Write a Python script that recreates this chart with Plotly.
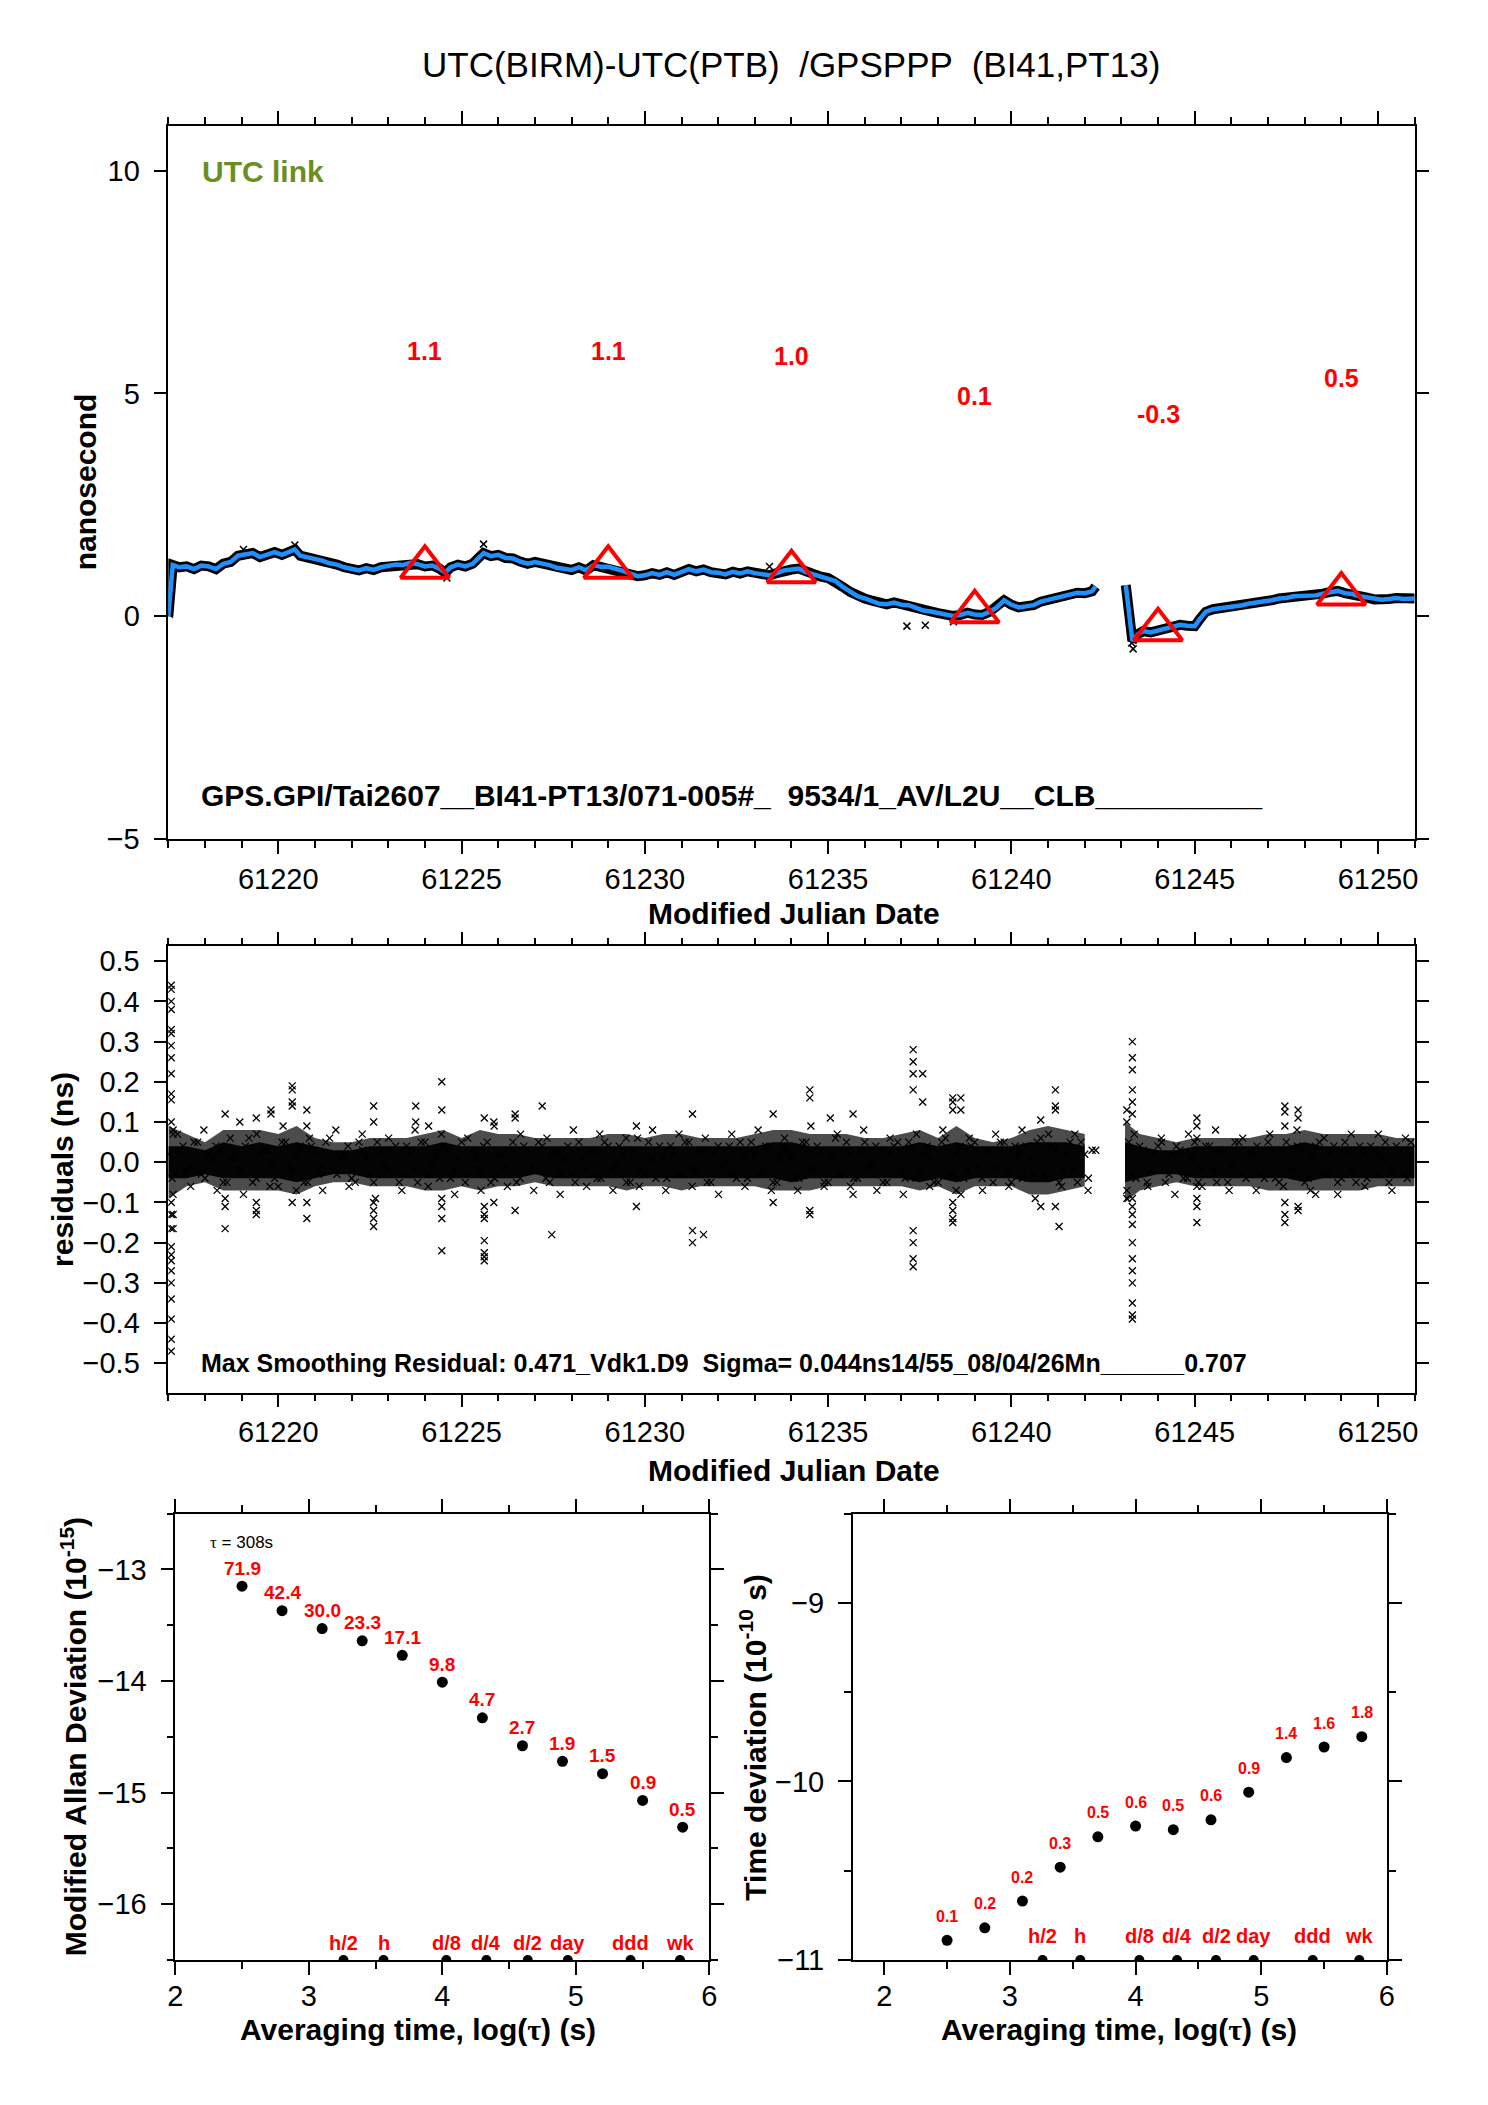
import numpy as np
import plotly.graph_objects as go

W, H = 1488, 2105          # reference picture size
OFF = 8                     # default page margin around the figure
FIG_W, FIG_H = W - 2 * OFF, H - 2 * OFF
FONT = "Liberation Sans"

# ---------------- top panel: UTC(BIRM)-UTC(PTB) ----------------
smooth_t_a = [61217.00, 61217.05, 61217.12, 61217.3, 61217.5, 61217.7, 61217.9, 61218.1, 61218.3, 61218.5,
              61218.7, 61218.9, 61219.1, 61219.3, 61219.5, 61219.7, 61219.9, 61220.1, 61220.3, 61220.45,
              61220.6, 61220.8, 61221.0, 61221.2, 61221.4, 61221.6, 61221.8, 61222.0, 61222.2, 61222.4,
              61222.6, 61222.8, 61223.0, 61223.2, 61223.4, 61223.6, 61223.8, 61224.0, 61224.2, 61224.4,
              61224.55, 61224.7, 61224.9, 61225.1, 61225.3, 61225.45, 61225.6, 61225.8, 61226.0, 61226.2,
              61226.4, 61226.6, 61226.8, 61227.0, 61227.2, 61227.4, 61227.6, 61227.8, 61228.0, 61228.2,
              61228.4, 61228.6, 61228.8, 61229.0, 61229.2, 61229.4, 61229.6, 61229.8, 61230.0, 61230.2,
              61230.4, 61230.6, 61230.8, 61231.0, 61231.2, 61231.4, 61231.6, 61231.8, 61232.0, 61232.2,
              61232.4, 61232.6, 61232.8, 61233.0, 61233.2, 61233.4, 61233.6, 61233.8, 61234.0, 61234.2,
              61234.4, 61234.6, 61234.8, 61235.0, 61235.2, 61235.4, 61235.6, 61235.8, 61236.0, 61236.2,
              61236.4, 61236.6, 61236.8, 61237.0, 61237.2, 61237.4, 61237.6, 61237.8, 61238.0, 61238.2,
              61238.4, 61238.6, 61238.8, 61239.0, 61239.2, 61239.4, 61239.6, 61239.8, 61240.0, 61240.2,
              61240.4, 61240.6, 61240.8, 61241.0, 61241.2, 61241.4, 61241.6, 61241.8, 61242.0, 61242.2,
              61242.3]
smooth_v_a = [0.00, 0.60, 1.15, 1.10, 1.12, 1.06, 1.14, 1.12, 1.06, 1.18,
              1.22, 1.36, 1.40, 1.42, 1.33, 1.38, 1.44, 1.38, 1.46, 1.50,
              1.36, 1.33, 1.28, 1.25, 1.19, 1.16, 1.10, 1.07, 1.03, 1.08,
              1.04, 1.10, 1.12, 1.16, 1.15, 1.20, 1.17, 1.12, 1.14, 1.07,
              0.98, 1.10, 1.16, 1.12, 1.18, 1.30, 1.42, 1.35, 1.38, 1.31,
              1.30, 1.23, 1.18, 1.22, 1.19, 1.15, 1.09, 1.07, 1.04, 1.10,
              1.03, 1.15, 1.11, 1.11, 1.07, 1.02, 0.96, 0.90, 0.92, 0.97,
              0.93, 0.99, 0.93, 1.00, 1.06, 1.01, 1.05, 0.99, 0.98, 0.94,
              1.00, 0.96, 1.01, 0.97, 0.95, 0.92, 0.97, 1.03, 1.05, 1.07,
              0.99, 0.94, 0.89, 0.86, 0.79, 0.66, 0.55, 0.45, 0.40, 0.35,
              0.28, 0.27, 0.31, 0.26, 0.25, 0.19, 0.13, 0.11, 0.07, 0.03,
              0.01, 0.03, 0.08, 0.04, 0.03, 0.10, 0.20, 0.36, 0.26, 0.20,
              0.23, 0.25, 0.33, 0.37, 0.41, 0.45, 0.50, 0.53, 0.52, 0.56,
              0.67]
smooth_t_b = [61243.12, 61243.2, 61243.3, 61243.45, 61243.6, 61243.8, 61244.0, 61244.2, 61244.4, 61244.6,
              61244.8, 61245.0, 61245.15, 61245.3, 61245.5, 61245.7, 61245.9, 61246.1, 61246.3, 61246.5,
              61246.7, 61246.9, 61247.1, 61247.3, 61247.5, 61247.7, 61247.9, 61248.1, 61248.3, 61248.5,
              61248.7, 61248.9, 61249.1, 61249.3, 61249.5, 61249.7, 61249.9, 61250.1, 61250.3, 61250.5,
              61250.7, 61250.9, 61251.0]
smooth_v_b = [0.70, 0.10, -0.55, -0.40, -0.33, -0.36, -0.32, -0.26, -0.23, -0.19,
              -0.21, -0.22, -0.05, 0.10, 0.16, 0.18, 0.20, 0.22, 0.25, 0.29,
              0.31, 0.35, 0.36, 0.40, 0.41, 0.45, 0.46, 0.48, 0.47, 0.51,
              0.55, 0.57, 0.52, 0.50, 0.45, 0.42, 0.38, 0.37, 0.39, 0.41,
              0.39, 0.41, 0.40]
top_spike_t = [61217.03, 61219.05, 61220.45, 61224.6, 61225.6, 61233.4, 61237.15, 61237.65, 61238.42, 61243.28, 61243.32]
top_spike_v = [0.05, 1.50, 1.60, 0.86, 1.62, 1.12, -0.22, -0.20, -0.12, -0.60, -0.73]
tri_t = [61224, 61229, 61234, 61239, 61244, 61249]
tri_v = [1.1, 1.1, 1.0, 0.1, -0.3, 0.5]

# ---------------- middle panel: residuals ----------------
res_a1 = [0.02, -0.03, 0.04, -0.01, 0.05, -0.04, 0.01, 0.03, -0.05, 0.02,
          -0.02, 0.06, -0.04, 0.03, 0.00, -0.06, 0.05, -0.02, 0.04, -0.05,
          0.03, -0.01, 0.06, -0.03, 0.02, -0.04, 0.05, 0.01, -0.05, 0.03,
          -0.02, 0.04, -0.03, 0.02, -0.05, 0.05, 0.00, -0.04, 0.03, -0.02,
          0.05, -0.03, 0.01, 0.04, -0.05, 0.02, -0.01, 0.05, -0.04, 0.03,
          -0.02, 0.04, -0.05, 0.02, 0.01, -0.03, 0.05, -0.02, 0.03, -0.04,
          0.04, -0.01, 0.02, -0.05, 0.06, -0.03, 0.01, 0.04, -0.04, 0.02,
          -0.03, 0.05, -0.02, 0.03, -0.05, 0.04, 0.00, -0.03, 0.05, -0.04,
          0.02, -0.02, 0.04, -0.05, 0.03, 0.01, -0.04, 0.05, -0.02, 0.03,
          -0.05, 0.06, -0.03, 0.02, -0.04, 0.05, -0.01, 0.03, -0.05, 0.04,
          -0.02, 0.05, -0.04, 0.02, 0.01, -0.05, 0.06, -0.03, 0.04, -0.02,
          0.05, -0.04, 0.03, -0.01, 0.05, -0.05, 0.02, 0.04, -0.03, 0.06,
          -0.04, 0.03, -0.02, 0.05, -0.05, 0.02, 0.03]
res_a2 = [-0.04, 0.03, -0.02, 0.05, -0.03, 0.02, 0.04, -0.05, 0.01, -0.02,
          0.04, -0.05, 0.02, 0.03, -0.04, 0.05, -0.01, 0.02, -0.05, 0.04,
          -0.03, 0.05, -0.02, 0.01, 0.04, -0.05, 0.03, -0.03, 0.05, -0.01,
          0.03, -0.05, 0.04, -0.02, 0.05, -0.03, 0.02, 0.04, -0.04, 0.01,
          -0.05, 0.03, -0.02, 0.05, -0.04, 0.02, 0.03, -0.05, 0.04, -0.01,
          0.05, -0.04, 0.02, -0.03, 0.04, -0.05, 0.01, 0.03, -0.04, 0.05,
          -0.02, 0.04, -0.05, 0.03, -0.02, 0.05, -0.04, 0.01, 0.04, -0.03,
          0.05, -0.02, 0.03, -0.05, 0.02, -0.01, 0.04, -0.04, 0.02, 0.05,
          -0.03, 0.04, -0.05, 0.01, 0.03, -0.04, 0.05, -0.02, 0.04, -0.05,
          0.02, -0.03, 0.05, -0.04, 0.03, -0.01, 0.04, -0.05, 0.02, 0.05,
          -0.04, 0.03, -0.02, 0.04, -0.05, 0.05, -0.03, 0.02, -0.04, 0.04,
          -0.01, 0.03, -0.05, 0.05, -0.02, 0.04, -0.04, 0.01, 0.05, -0.03,
          0.04, -0.05, 0.02, -0.02, 0.05, -0.04, 0.03]
res_a3 = [0.07, -0.06, 0.08, -0.07, 0.06, -0.08, 0.07, -0.06, 0.09, -0.07,
          0.06, -0.07, 0.08, -0.06, 0.07, -0.09, 0.06, -0.07, 0.08, -0.06,
          0.07, -0.08, 0.06, -0.07, 0.09, -0.06, 0.07, -0.07, 0.06, -0.08,
          0.08, -0.06, 0.07, -0.07, 0.06, -0.06, 0.08, -0.07, 0.07, -0.06,
          0.06, -0.08, 0.07, -0.06, 0.08, -0.07, 0.06, -0.07, 0.09, -0.06,
          0.07, -0.06, 0.08, -0.07, 0.06, -0.08, 0.07, -0.06, 0.08, -0.07,
          0.06, -0.07, 0.07, -0.06, 0.08, -0.09, 0.07, -0.06, 0.07, -0.07]
res_b1 = [0.05, -0.04, 0.03, -0.02, 0.04, -0.05, 0.02, 0.03, -0.04, 0.05,
          -0.02, 0.04, -0.05, 0.03, -0.01, 0.05, -0.04, 0.02, -0.03, 0.05,
          -0.04, 0.03, -0.02, 0.04, -0.05, 0.02, 0.05, -0.03, 0.04, -0.04,
          0.03, -0.05, 0.02, 0.04, -0.03, 0.05, -0.02, 0.03, -0.04, 0.04]
res_b2 = [-0.03, 0.04, -0.05, 0.02, 0.05, -0.03, 0.04, -0.04, 0.01, -0.05,
          0.04, -0.02, 0.03, -0.05, 0.05, -0.03, 0.02, 0.04, -0.04, 0.03,
          -0.05, 0.05, -0.02, 0.03, -0.04, 0.04, -0.03, 0.02, -0.05, 0.05,
          -0.02, 0.04, -0.04, 0.03, 0.01, -0.05, 0.04, -0.03, 0.05]
res_b3 = [0.07, -0.06, 0.06, -0.08, 0.07, -0.06, 0.08, -0.07, 0.06, -0.07,
          0.07, -0.06, 0.08, -0.07, 0.06, -0.08, 0.07, -0.06, 0.07, -0.07, 0.06]
res_t_a1 = np.round(61217.0 + 0.2 * np.arange(len(res_a1)), 3)
res_t_a2 = np.round(61217.1 + 0.2 * np.arange(len(res_a2)), 3)
res_t_a3 = np.round(61217.25 + 0.36 * np.arange(len(res_a3)), 3)
res_t_b1 = np.round(61243.2 + 0.2 * np.arange(len(res_b1)), 3)
res_t_b2 = np.round(61243.3 + 0.2 * np.arange(len(res_b2)), 3)
res_t_b3 = np.round(61243.35 + 0.37 * np.arange(len(res_b3)), 3)

env_t_a = np.round(61217.0 + 0.5 * np.arange(51), 2)
outer_up_a = [0.09, 0.07, 0.05, 0.08, 0.08, 0.08, 0.07, 0.09, 0.06, 0.05,
              0.05, 0.06, 0.06, 0.06, 0.07, 0.08, 0.06, 0.08, 0.07, 0.07,
              0.06, 0.06, 0.06, 0.06, 0.07, 0.07, 0.06, 0.07, 0.07, 0.06,
              0.06, 0.06, 0.07, 0.08, 0.08, 0.07, 0.07, 0.07, 0.06, 0.06,
              0.07, 0.08, 0.06, 0.09, 0.06, 0.05, 0.06, 0.08, 0.09, 0.08, 0.07]
outer_lo_a = [-0.09, -0.06, -0.05, -0.07, -0.07, -0.07, -0.07, -0.08, -0.06, -0.05,
              -0.05, -0.06, -0.06, -0.06, -0.07, -0.07, -0.06, -0.07, -0.06, -0.06,
              -0.05, -0.06, -0.06, -0.06, -0.06, -0.07, -0.06, -0.06, -0.07, -0.06,
              -0.06, -0.06, -0.06, -0.07, -0.07, -0.07, -0.06, -0.06, -0.06, -0.06,
              -0.06, -0.07, -0.06, -0.08, -0.06, -0.06, -0.06, -0.08, -0.08, -0.07, -0.06]
inner_up_a = [0.04, 0.04, 0.03, 0.05, 0.04, 0.05, 0.04, 0.05, 0.04, 0.03,
              0.03, 0.04, 0.04, 0.04, 0.04, 0.05, 0.04, 0.04, 0.04, 0.04,
              0.04, 0.04, 0.04, 0.04, 0.04, 0.04, 0.04, 0.04, 0.04, 0.04,
              0.04, 0.04, 0.04, 0.05, 0.05, 0.04, 0.04, 0.04, 0.04, 0.04,
              0.04, 0.05, 0.04, 0.05, 0.04, 0.04, 0.04, 0.05, 0.05, 0.05, 0.04]
inner_lo_a = [-0.04, -0.04, -0.03, -0.04, -0.04, -0.04, -0.04, -0.05, -0.04, -0.03,
              -0.03, -0.04, -0.04, -0.04, -0.04, -0.04, -0.04, -0.04, -0.04, -0.04,
              -0.03, -0.04, -0.04, -0.04, -0.04, -0.04, -0.04, -0.04, -0.04, -0.04,
              -0.04, -0.04, -0.04, -0.04, -0.05, -0.04, -0.04, -0.04, -0.04, -0.04,
              -0.04, -0.05, -0.04, -0.05, -0.04, -0.04, -0.04, -0.05, -0.05, -0.04, -0.04]
env_t_b = [61243.1, 61243.5, 61244.0, 61244.5, 61245.0, 61245.5, 61246.0, 61246.5, 61247.0,
           61247.5, 61248.0, 61248.5, 61249.0, 61249.5, 61250.0, 61250.5, 61251.0]
outer_up_b = [0.10, 0.07, 0.06, 0.05, 0.06, 0.06, 0.06, 0.06, 0.07, 0.07, 0.08, 0.07, 0.07, 0.07, 0.07, 0.06, 0.06]
outer_lo_b = [-0.10, -0.07, -0.06, -0.05, -0.06, -0.06, -0.06, -0.06, -0.07, -0.07, -0.07, -0.07, -0.07, -0.07, -0.06, -0.06, -0.06]
inner_up_b = [0.05, 0.04, 0.03, 0.03, 0.04, 0.04, 0.04, 0.04, 0.04, 0.04, 0.05, 0.04, 0.04, 0.04, 0.04, 0.04, 0.04]
inner_lo_b = [-0.05, -0.04, -0.03, -0.03, -0.04, -0.04, -0.04, -0.04, -0.04, -0.04, -0.05, -0.04, -0.04, -0.04, -0.04, -0.04, -0.04]

spike_t = [61217.08, 61217.13, 61218.55, 61218.95, 61219.40, 61219.80, 61220.38, 61220.78, 61222.60,
           61223.75, 61224.10, 61224.46, 61225.62, 61225.88, 61226.46, 61227.20, 61227.46, 61229.77,
           61231.30, 61231.60, 61233.50, 61234.50, 61235.06, 61235.68, 61237.32, 61237.58, 61238.40,
           61238.62, 61240.80, 61241.20, 61241.30, 61243.15, 61243.30, 61245.06, 61247.46, 61247.82, 61248.30]
spike_v = [[0.44, 0.43, 0.40, 0.38, 0.33, 0.32, 0.29, 0.26, 0.22, 0.17, 0.155, 0.10, -0.10, -0.13, -0.165,
            -0.21, -0.23, -0.245, -0.27, -0.30, -0.34, -0.39, -0.44, -0.47],
           [0.08, 0.07, -0.08, -0.13, -0.165],
           [0.12, -0.09, -0.11, -0.165],
           [0.10],
           [0.11, -0.10, -0.12, -0.13],
           [0.13, 0.12],
           [0.19, 0.18, 0.15, 0.14, -0.10],
           [0.13, 0.09, -0.10, -0.14],
           [0.14, 0.10, -0.10, -0.12, -0.14, -0.16],
           [0.14, 0.10],
           [0.09],
           [0.20, 0.13, -0.09, -0.11, -0.14, -0.22],
           [0.11, -0.11, -0.13, -0.14, -0.195, -0.225, -0.235, -0.245],
           [0.10, -0.10],
           [0.12, 0.11, -0.12],
           [0.14],
           [-0.18],
           [0.09, -0.11],
           [0.12, -0.17, -0.20],
           [-0.18],
           [0.12, -0.10],
           [0.18, 0.16, -0.12, -0.13],
           [0.11],
           [0.12, -0.08],
           [0.28, 0.25, 0.22, 0.18, -0.17, -0.20, -0.24, -0.26],
           [0.22, 0.15],
           [0.16, 0.15, 0.13, -0.10, -0.12, -0.14, -0.15],
           [0.16, 0.13, -0.08],
           [0.105, -0.11],
           [0.18, 0.14, 0.13, -0.11],
           [-0.16],
           [0.13, 0.10, -0.07, -0.09],
           [0.30, 0.26, 0.23, 0.18, 0.15, 0.12, -0.09, -0.11, -0.13, -0.155, -0.20, -0.24, -0.27, -0.30,
            -0.35, -0.38, -0.39],
           [0.11, 0.09, 0.06, -0.06, -0.09, -0.11, -0.15],
           [0.14, 0.125, 0.09, -0.10, -0.13, -0.15],
           [0.13, 0.11, -0.11, -0.12],
           [-0.08]]

stat_text = "Max Smoothing Residual: 0.471_Vdk1.D9  Sigma= 0.044ns14/55_08/04/26Mn______0.707"
link_text = "GPS.GPI/Tai2607__BI41-PT13/071-005#_  9534/1_AV/L2U__CLB__________"

# ---------------- bottom panels ----------------
log_tau = [2.5, 2.8, 3.1, 3.4, 3.7, 4.0, 4.3, 4.6, 4.9, 5.2, 5.5, 5.8]
mdev_log = [-13.15, -13.37, -13.53, -13.64, -13.77, -14.01, -14.33, -14.58, -14.72, -14.83, -15.07, -15.31]
mdev_lab = ["71.9", "42.4", "30.0", "23.3", "17.1", "9.8", "4.7", "2.7", "1.9", "1.5", "0.9", "0.5"]
tdev_log = [-10.89, -10.82, -10.67, -10.48, -10.31, -10.25, -10.27, -10.215, -10.06, -9.866, -9.807, -9.749]
tdev_lab = ["0.1", "0.2", "0.2", "0.3", "0.5", "0.6", "0.5", "0.6", "0.9", "1.4", "1.6", "1.8"]
mark_log = [3.26, 3.56, 4.03, 4.33, 4.64, 4.94, 5.41, 5.78]
mark_lab = ["h/2", "h", "d/8", "d/4", "d/2", "day", "ddd", "wk"]


def px(x, y):
    return (x - OFF) / FIG_W, 1 - (y - OFF) / FIG_H


def dom_x(a, b):
    return [(a - OFF) / FIG_W, (b - OFF) / FIG_W]


def dom_y(top, bottom):
    return [1 - (bottom - OFF) / FIG_H, 1 - (top - OFF) / FIG_H]


fig = go.Figure()

# top panel traces
band_t = smooth_t_a + [None] + smooth_t_b
band_v = smooth_v_a + [None] + smooth_v_b
fig.add_trace(go.Scatter(x=band_t, y=band_v, mode="lines", line=dict(color="black", width=10),
                         connectgaps=False, xaxis="x", yaxis="y", hoverinfo="skip"))
fig.add_trace(go.Scatter(x=top_spike_t, y=top_spike_v, mode="markers", xaxis="x", yaxis="y",
                         marker=dict(symbol="x-thin", size=7, line=dict(color="black", width=1.5))))
fig.add_trace(go.Scatter(x=band_t, y=band_v, mode="lines", line=dict(color="#1E90FF", width=4.5),
                         connectgaps=False, xaxis="x", yaxis="y"))
fig.add_trace(go.Scatter(x=tri_t, y=tri_v, mode="markers", xaxis="x", yaxis="y",
                         marker=dict(symbol="triangle-up-open", size=42, color="red",
                                     line=dict(color="red", width=4))))

# middle panel traces
for et, lo, up, col in [(env_t_a, outer_lo_a, outer_up_a, "rgba(0,0,0,0.7)"),
                        (env_t_a, inner_lo_a, inner_up_a, "rgba(0,0,0,0.95)"),
                        (env_t_b, outer_lo_b, outer_up_b, "rgba(0,0,0,0.7)"),
                        (env_t_b, inner_lo_b, inner_up_b, "rgba(0,0,0,0.95)")]:
    fig.add_trace(go.Scatter(x=list(et), y=lo, mode="lines", line=dict(width=0, color=col),
                             xaxis="x2", yaxis="y2", hoverinfo="skip"))
    fig.add_trace(go.Scatter(x=list(et), y=up, mode="lines", line=dict(width=0, color=col),
                             fill="tonexty", fillcolor=col, xaxis="x2", yaxis="y2", hoverinfo="skip"))

for rt, rv in [(res_t_a1, res_a1), (res_t_a2, res_a2), (res_t_a3, res_a3),
               (res_t_b1, res_b1), (res_t_b2, res_b2), (res_t_b3, res_b3)]:
    fig.add_trace(go.Scatter(x=list(rt), y=rv, mode="markers", xaxis="x2", yaxis="y2",
                             marker=dict(symbol="x-thin", size=7, line=dict(color="black", width=1.3))))

sx, sy = [], []
for t, vals in zip(spike_t, spike_v):
    for v in vals:
        sx.append(t)
        sy.append(v)
fig.add_trace(go.Scatter(x=sx, y=sy, mode="markers", xaxis="x2", yaxis="y2",
                         marker=dict(symbol="x-thin", size=7, line=dict(color="black", width=1.3))))

# bottom-left: MDEV
fig.add_trace(go.Scatter(x=log_tau, y=mdev_log, mode="markers", xaxis="x3", yaxis="y3",
                         marker=dict(symbol="circle", size=11, color="black")))
fig.add_trace(go.Scatter(x=mark_log, y=[-16.5] * len(mark_log), mode="markers", xaxis="x3", yaxis="y3",
                         marker=dict(symbol="circle", size=10, color="black")))
# bottom-right: TDEV
fig.add_trace(go.Scatter(x=log_tau, y=tdev_log, mode="markers", xaxis="x4", yaxis="y4",
                         marker=dict(symbol="circle", size=11, color="black")))
fig.add_trace(go.Scatter(x=mark_log, y=[-11] * len(mark_log), mode="markers", xaxis="x4", yaxis="y4",
                         marker=dict(symbol="circle", size=10, color="black")))

tickfont = dict(family=FONT, size=29, color="black")


def axis(domain, rng, anchor, dtick, minor_dtick=None, tick0=None, tickvals=None, tickformat=None,
         standoff=8):
    d = dict(domain=domain, range=rng, anchor=anchor, showline=True, linecolor="black", linewidth=1.5,
             mirror="ticks", ticks="outside", ticklen=13, tickwidth=2, tickcolor="black",
             showgrid=False, zeroline=False, tickfont=tickfont, ticklabelstandoff=standoff)
    if tickvals is not None:
        d["tickmode"] = "array"
        d["tickvals"] = tickvals
    else:
        d["dtick"] = dtick
        if tick0 is not None:
            d["tick0"] = tick0
    if tickformat:
        d["tickformat"] = tickformat
    if minor_dtick:
        d["minor"] = dict(ticks="outside", ticklen=7, tickwidth=2, tickcolor="black", dtick=minor_dtick,
                          showgrid=False)
    return d


BS = 14   # vertical position offset of the two lower panels
fig.update_layout(
    width=FIG_W, height=FIG_H, margin=dict(l=0, r=0, t=0, b=0),
    paper_bgcolor="white", plot_bgcolor="white", showlegend=False,
    font=dict(family=FONT, color="black"),
    xaxis=axis(dom_x(162, 1422), [61217, 61251], "y", 5, 1, tick0=61220, tickformat="d", standoff=0),
    yaxis=axis(dom_y(126, 845), [-5, 11], "x", None, tickvals=[-5, 0, 5, 10]),
    xaxis2=axis(dom_x(162, 1422), [61217, 61251], "y2", 5, 1, tick0=61220, tickformat="d", standoff=0),
    yaxis2=axis(dom_y(953, 1403), [-0.573, 0.537], "x2", 0.1, tick0=0, tickformat=".1f"),
    xaxis3=axis(dom_x(169, 709), [2, 6], "y3", 1, 0.5, tick0=2, standoff=-4),
    yaxis3=axis(dom_y(1511 + BS, 1961 + BS), [-16.5, -12.5], "x3", 1, 0.5, tick0=-16),
    xaxis4=axis(dom_x(854, 1394), [1.75, 6], "y4", 1, 0.5, tick0=2, standoff=-4),
    yaxis4=axis(dom_y(1511 + BS, 1961 + BS), [-11, -8.5], "x4", 1, 0.5, tick0=-11),
)

ann = []


def add_px_text(x, y, text, size, color="black", bold=False, xanchor="center", angle=0):
    xp, yp = px(x, y)
    t = f"<b>{text}</b>" if bold else text
    ann.append(dict(x=xp, y=yp, xref="paper", yref="paper", text=t, showarrow=False,
                    xanchor=xanchor, yanchor="middle", textangle=angle,
                    font=dict(family=FONT, size=size, color=color)))


add_px_text(792, 64, "UTC(BIRM)-UTC(PTB)  /GPSPPP  (BI41,PT13)", 35)
add_px_text(194, 172, "UTC link", 30, color="#6B8E23", bold=True, xanchor="left")
add_px_text(193, 801, link_text, 30, bold=True, xanchor="left")
add_px_text(795, 920, "Modified Julian Date", 30, bold=True)
add_px_text(78, 485, "nanosecond", 30, bold=True, angle=-90)
add_px_text(193, 1373, stat_text, 25, bold=True, xanchor="left")
add_px_text(795, 1481, "Modified Julian Date", 30, bold=True)
add_px_text(55, 1178, "residuals (ns)", 30, bold=True, angle=-90)
add_px_text(66, 1736 + BS, "Modified Allan Deviation (10<sup>-15</sup>)", 30, bold=True, angle=-90)
add_px_text(753, 1736 + BS, "Time deviation (10<sup>-10</sup> s)", 30, bold=True, angle=-90)
tau = "<span style='font-family:Liberation Serif'>τ</span>"
add_px_text(414, 2031 + BS, f"Averaging time, log({tau}) (s)", 30, bold=True)
add_px_text(1123, 2031 + BS, f"Averaging time, log({tau}) (s)", 30, bold=True)
add_px_text(236, 1540 + BS, f"{tau} = 308s", 17)

for t, v in zip(tri_t, tri_v):
    ann.append(dict(x=t, y=v, xref="x", yref="y", text=f"<b>{v:.1f}</b>", showarrow=False,
                    yshift=216, font=dict(family=FONT, size=25, color="red")))
for x, y, lab in zip(log_tau, mdev_log, mdev_lab):
    ann.append(dict(x=x, y=y, xref="x3", yref="y3", text=f"<b>{lab}</b>", showarrow=False,
                    yshift=18, font=dict(family=FONT, size=19, color="red")))
for x, y, lab in zip(log_tau, tdev_log, tdev_lab):
    ann.append(dict(x=x, y=y, xref="x4", yref="y4", text=f"<b>{lab}</b>", showarrow=False,
                    yshift=24, font=dict(family=FONT, size=16, color="red")))
for x, lab in zip(mark_log, mark_lab):
    ann.append(dict(x=x, y=-16.5, xref="x3", yref="y3", text=f"<b>{lab}</b>", showarrow=False,
                    yshift=17, font=dict(family=FONT, size=20, color="red")))
    ann.append(dict(x=x, y=-11, xref="x4", yref="y4", text=f"<b>{lab}</b>", showarrow=False,
                    yshift=24, font=dict(family=FONT, size=20, color="red")))

fig.update_layout(annotations=ann)
fig.write_html("out.html")
